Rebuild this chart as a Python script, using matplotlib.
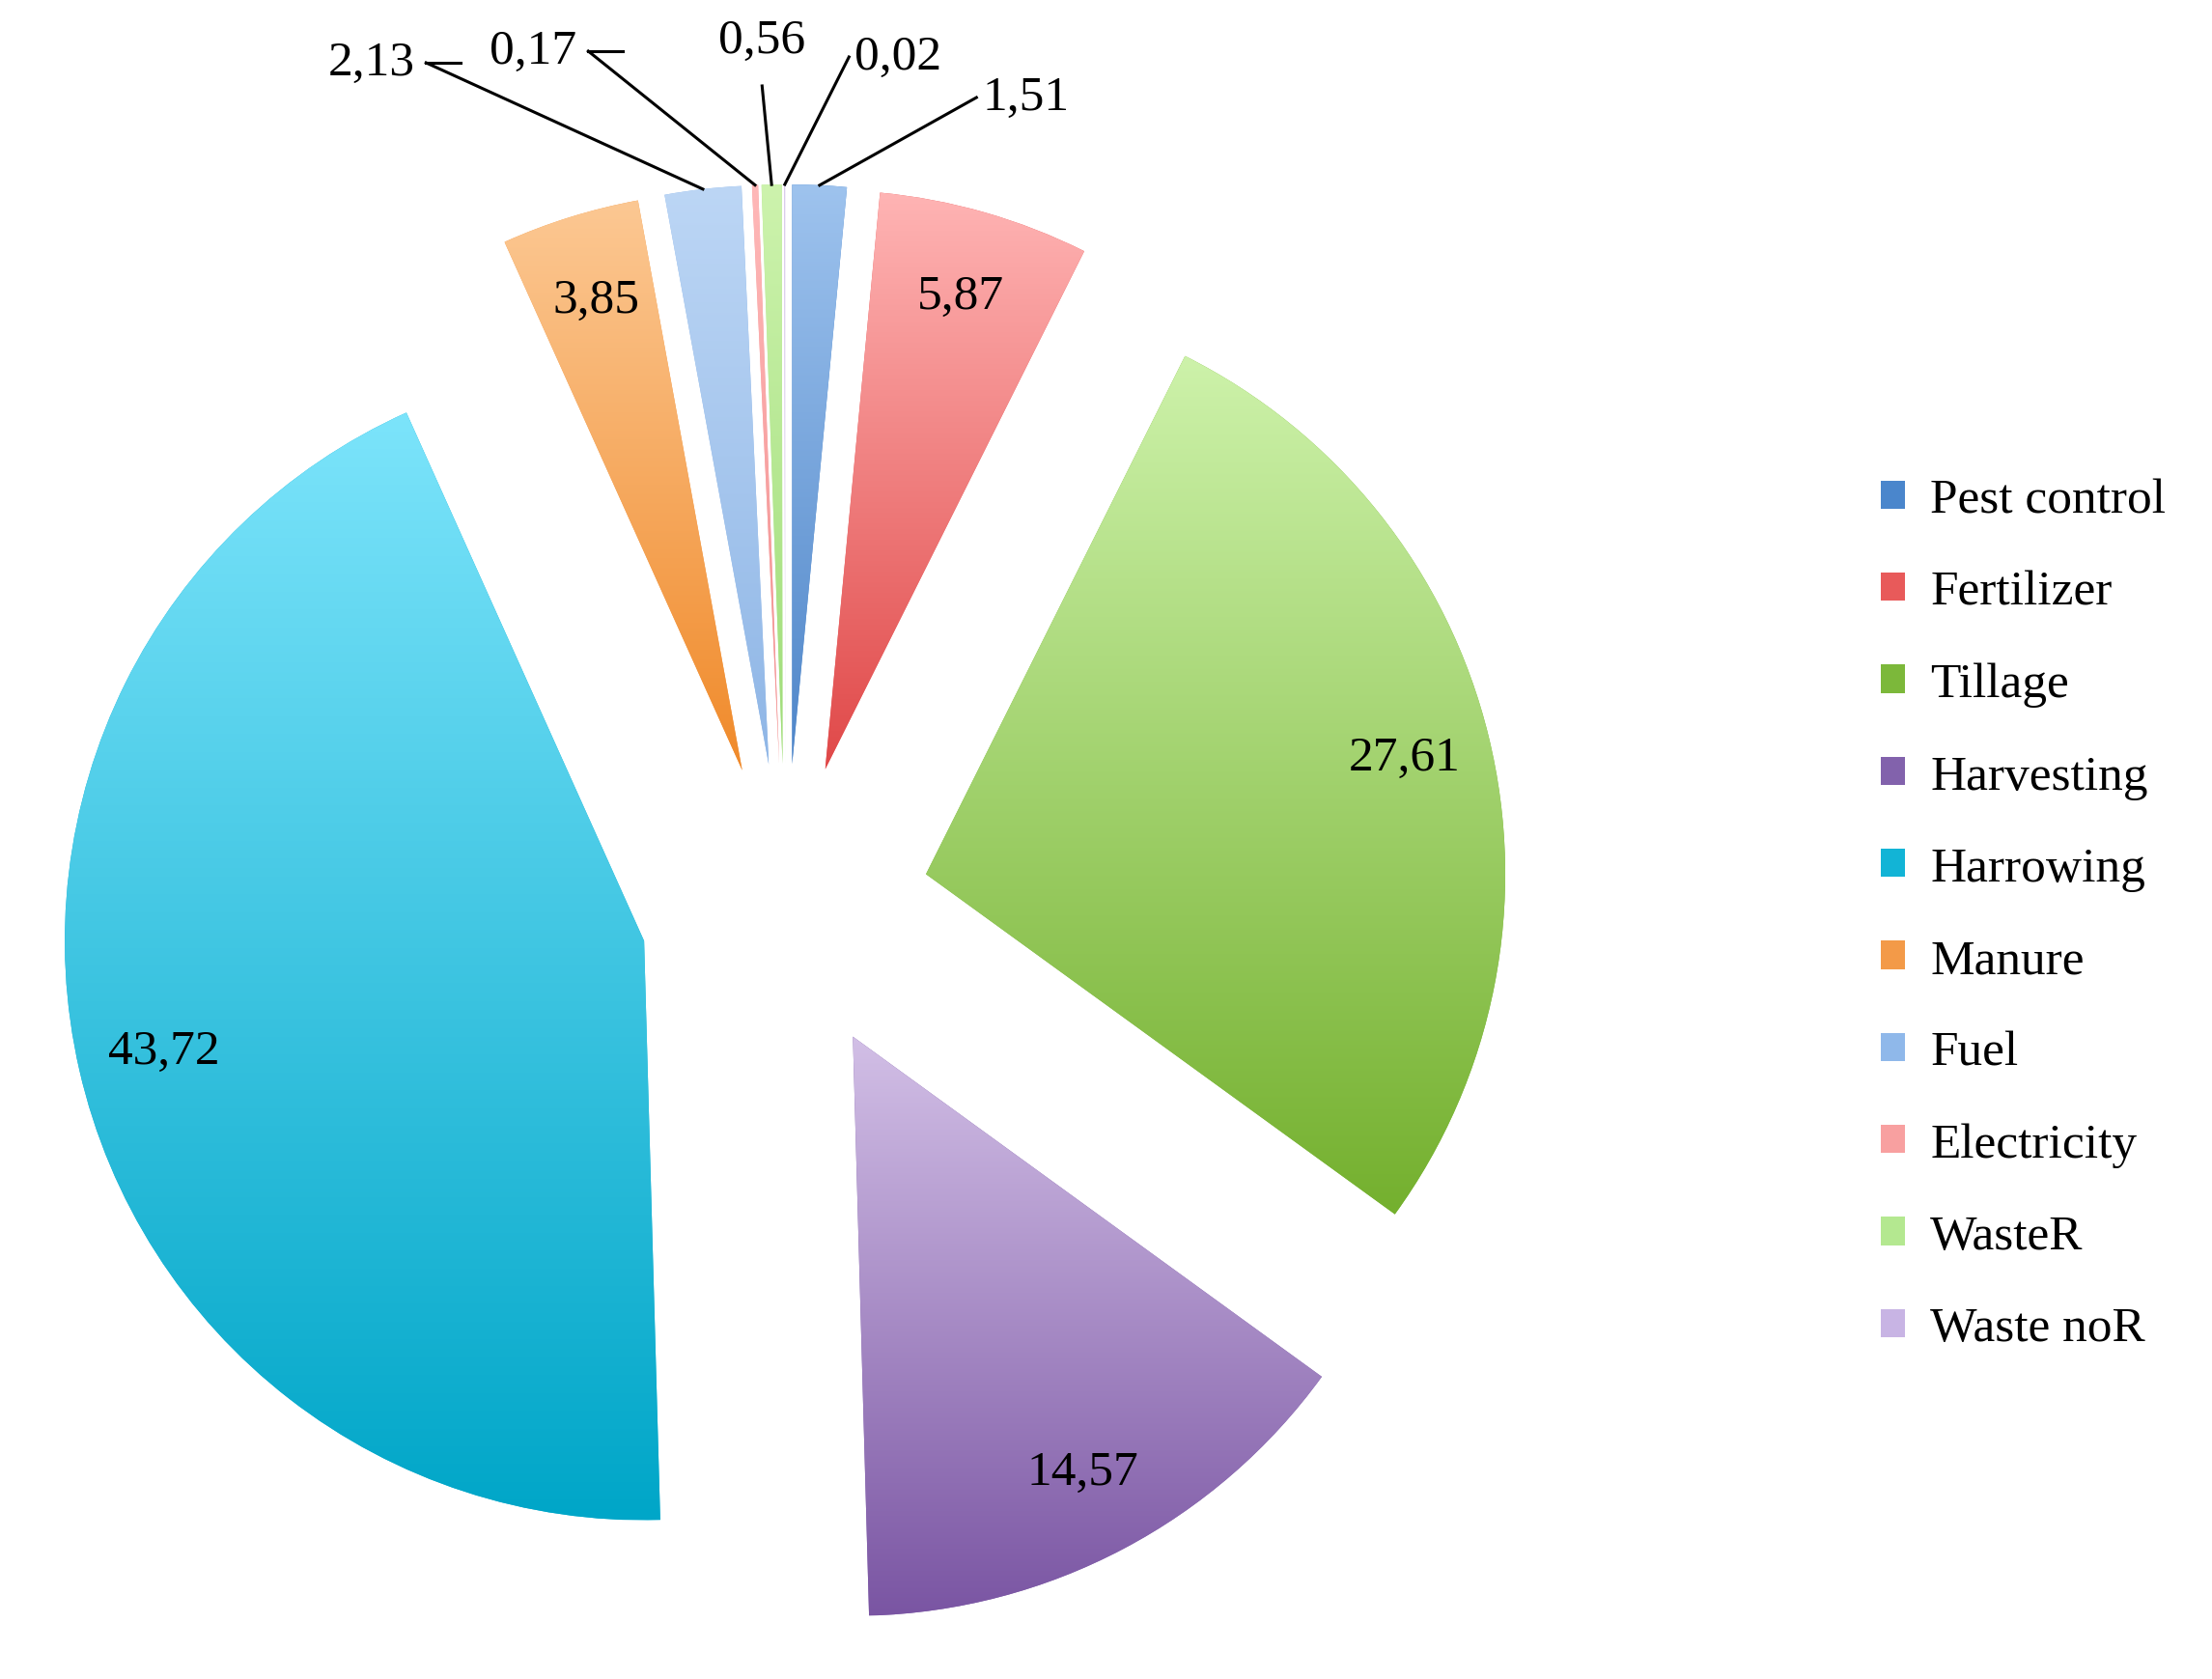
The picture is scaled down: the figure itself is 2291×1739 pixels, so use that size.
import matplotlib
matplotlib.use("Agg")
import matplotlib.pyplot as plt
import numpy as np
from matplotlib.colors import to_rgb
from matplotlib.patches import Patch

plt.rcParams["font.family"] = ["Liberation Serif", "DejaVu Serif"]

categories = ["Pest control", "Fertilizer", "Tillage", "Harvesting", "Harrowing",
              "Manure", "Fuel", "Electricity", "WasteR", "Waste noR"]
values = [1.51, 5.87, 27.61, 14.57, 43.72, 3.85, 2.13, 0.17, 0.56, 0.02]
labels = ["1,51", "5,87", "27,61", "14,57", "43,72", "3,85", "2,13", "0,17", "0,56", "0,02"]

# (top colour, bottom colour) for the vertical gradient of each slice
top_colors = ["#9ec3ee", "#ffb4b4", "#cdf2aa", "#d2bfe6", "#7ce4fb",
              "#fcc893", "#bcd6f5", "#ffb8b8", "#cdf3ad", "#d6c6ea"]
bottom_colors = ["#4f86c9", "#e04848", "#74b02e", "#7a55a3", "#00a6c8",
                 "#f08a2a", "#8fb6e6", "#f08c8c", "#9edc78", "#b09ad2"]
legend_colors = ["#4a86cc", "#e85a5a", "#7cb83a", "#8262ac", "#12b4d6",
                 "#f39a48", "#8fb8ea", "#f8a0a0", "#b4e890", "#c8b4e4"]

inside = {0: False, 1: True, 2: True, 3: True, 4: True, 5: True,
          6: False, 7: False, 8: False, 9: False}
outside_pos = {0: (0.34, 1.40), 6: (-0.64, 1.46), 7: (-0.36, 1.48),
               8: (-0.04, 1.46), 9: (0.12, 1.47)}

fig = plt.figure(figsize=(22.91, 17.4), dpi=100)
ax = fig.add_axes([0.0, 0.0, 0.71, 1.0])

explode = [0.25] * len(values)
wedges, _ = ax.pie(values, startangle=90, counterclock=False, explode=explode,
                   colors=legend_colors, radius=1.0)

fs = 37
for i, w in enumerate(wedges):
    cx, cy = w.center
    th = np.radians(np.linspace(w.theta1, w.theta2, 60))
    xs = np.concatenate([[cx], cx + w.r * np.cos(th)])
    ys = np.concatenate([[cy], cy + w.r * np.sin(th)])
    x0, x1, y0, y1 = xs.min(), xs.max(), ys.min(), ys.max()
    c0, c1 = np.array(to_rgb(top_colors[i])), np.array(to_rgb(bottom_colors[i]))
    t = np.linspace(0, 1, 256)[:, None]
    grad = (c0 * (1 - t) + c1 * t)[:, None, :]
    im = ax.imshow(grad, extent=[x0, x1, y0, y1], origin="upper",
                   aspect="auto", zorder=2, interpolation="bilinear")
    im.set_clip_path(w)
    w.set_edgecolor("none")

    mid = np.radians((w.theta1 + w.theta2) / 2)
    if inside[i]:
        d = 1.1
        ax.text(d * np.cos(mid), d * np.sin(mid), labels[i], ha="center",
                va="center", fontsize=fs, zorder=5)
    else:
        px, py = 1.25 * np.cos(mid), 1.25 * np.sin(mid)
        tx, ty = outside_pos[i]
        if i in (0, 9):
            ha, lx = "left", tx - 0.01
        elif i == 8:
            ha, lx = "center", tx
        else:
            ha, lx = "right", tx + 0.02
        ly = ty - 0.04 if i == 8 else ty
        ax.plot([px, lx], [py, ly], color="black", lw=2.2, zorder=4)
        if ha == "right":
            ax.plot([lx, lx + 0.06], [ty, ty], color="black", lw=2.2, zorder=4)
        ax.text(tx, ty, labels[i], ha=ha,
                va="bottom" if i == 8 else "center", fontsize=fs, zorder=5)

ax.set_xlim(-1.32, 1.32)
ax.set_ylim(-1.33, 1.57)
ax.set_aspect("equal")
ax.axis("off")

handles = [Patch(facecolor=c, edgecolor="none") for c in legend_colors]
fig.legend(handles, categories, loc="center left", bbox_to_anchor=(0.83, 0.455),
           frameon=False, fontsize=fs, handlelength=0.5, handleheight=0.5,
           handletextpad=0.5, labelspacing=0.95)

fig.savefig("out.png", dpi=100)
